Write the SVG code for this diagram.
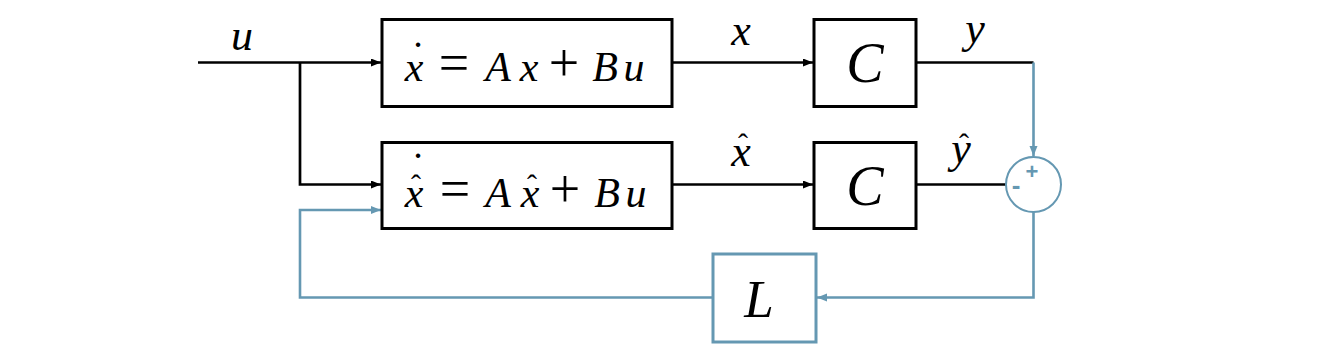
<svg xmlns="http://www.w3.org/2000/svg" width="1323" height="355" viewBox="0 0 1323 355">
<style>
.box{fill:#fff;stroke:#000;stroke-width:3}
.bbox{fill:#fff;stroke:#6598b2;stroke-width:3}
.k{fill:none;stroke:#000;stroke-width:2.7}
.b{fill:none;stroke:#6598b2;stroke-width:2.6}
.s{font-family:'Liberation Serif','DejaVu Serif',serif;text-anchor:middle;fill:#000}
.i{font-style:italic}
</style>
<defs>
<marker id="ak" markerUnits="userSpaceOnUse" markerWidth="11" markerHeight="9" refX="10" refY="4" orient="auto"><path d="M0,0 L10,4 L0,8 z" fill="#000"/></marker>
<marker id="ab" markerUnits="userSpaceOnUse" markerWidth="11" markerHeight="9" refX="10" refY="4" orient="auto"><path d="M0,0 L10,4 L0,8 z" fill="#6598b2"/></marker>
</defs>
<rect width="1323" height="355" fill="#fff"/>
<g id="connectors">
<path class="k" d="M198,62.5 H381" marker-end="url(#ak)"/>
<path class="k" d="M300,62.5 V184.5 H381" marker-end="url(#ak)"/>
<path class="k" d="M672,62.5 H813" marker-end="url(#ak)"/>
<path class="k" d="M672,184.5 H813" marker-end="url(#ak)"/>
<path class="k" d="M916,62.5 H1033.5"/>
<path class="b" d="M1033.5,62.5 V156" marker-end="url(#ab)"/>
<path class="k" d="M916,184.5 H1006"/>
<path class="b" d="M1033.5,212 V297.5 H817" marker-end="url(#ab)"/>
<path class="b" d="M713,297.5 H300 V210 H381" marker-end="url(#ab)"/>
<text class="s i" font-size="44" x="242" y="50">u</text>
<text class="s i" font-size="44" x="741" y="45">x</text>
<text class="s i" font-size="44" x="975" y="43">y</text>
<text class="s i" font-size="44" x="741" y="166">x</text>
<text class="s i" font-size="44" x="961" y="163">y</text>
<text class="s" font-size="30" x="743" y="154">ˆ</text>
<text class="s" font-size="30" x="964" y="154">ˆ</text>
</g>
<g id="plant">
<rect class="box" x="382" y="19.5" width="290" height="87"/>
<text class="s i" font-size="42" x="414" y="81">x</text>
<text class="s i" font-size="42" x="498" y="81">A</text>
<text class="s i" font-size="42" x="529" y="81">x</text>
<text class="s i" font-size="42" x="605" y="81">B</text>
<text class="s i" font-size="42" x="634" y="81">u</text>
<text class="s" font-size="42" x="418" y="71">˙</text>
<text class="s" font-size="54" x="454" y="81">=</text>
<text class="s" font-size="54" x="564" y="81">+</text>
</g>
<g id="observer">
<rect class="box" x="382" y="142.5" width="290" height="86"/>
<text class="s i" font-size="42" x="414" y="207">x</text>
<text class="s i" font-size="42" x="498" y="207">A</text>
<text class="s i" font-size="42" x="530" y="207">x</text>
<text class="s i" font-size="42" x="607" y="207">B</text>
<text class="s i" font-size="42" x="636" y="207">u</text>
<text class="s" font-size="30" x="416" y="195">ˆ</text>
<text class="s" font-size="42" x="418" y="182">˙</text>
<text class="s" font-size="30" x="532" y="195">ˆ</text>
<text class="s" font-size="54" x="455" y="207">=</text>
<text class="s" font-size="54" x="565" y="207">+</text>
</g>
<g id="C1">
<rect class="box" x="814" y="19.5" width="102" height="87"/>
<text class="s i" font-size="56" x="865" y="82">C</text>
</g>
<g id="C2">
<rect class="box" x="814" y="142.5" width="102" height="86"/>
<text class="s i" font-size="56" x="865" y="205">C</text>
</g>
<g id="sum">
<circle cx="1033.5" cy="184.5" r="27.5" fill="none" stroke="#6598b2" stroke-width="2"/>
<text font-family="Liberation Sans, sans-serif" text-anchor="middle" fill="#6598b2" font-weight="bold" font-size="22" x="1032" y="179">+</text>
<text font-family="Liberation Sans, sans-serif" text-anchor="middle" fill="#6598b2" font-weight="bold" font-size="26" x="1016" y="194">-</text>
</g>
<g id="L">
<rect class="bbox" x="713" y="254" width="103" height="88"/>
<text class="s i" font-size="53" x="759" y="317">L</text>
</g>
</svg>
